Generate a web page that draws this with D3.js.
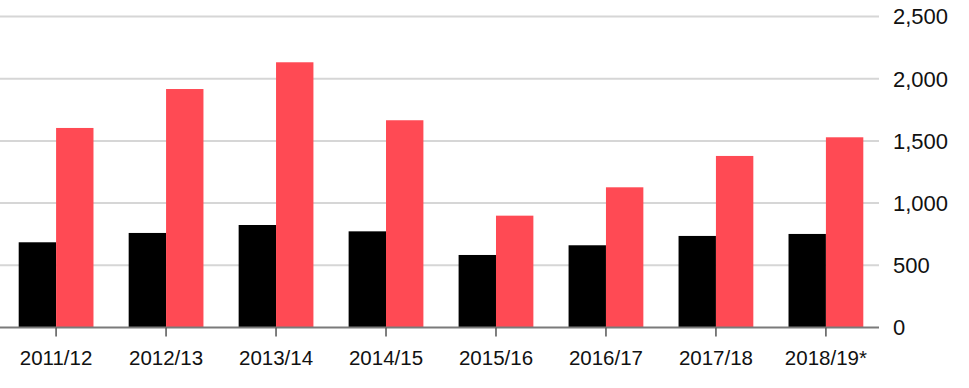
<!DOCTYPE html>
<html>
<head>
<meta charset="utf-8">
<script src="https://cdn.jsdelivr.net/npm/d3@7"></script>
<style>
	body { margin: 0; background: #fff; }
	svg { display: block; font-family: "Liberation Sans", Arial, sans-serif; }
</style>
</head>
<body>
<script>
const years = ["2011/12", "2012/13", "2013/14", "2014/15", "2015/16", "2016/17", "2017/18", "2018/19*"];
const seriesA = [685, 760, 824, 773, 583, 661, 736, 752];
const seriesB = [1604, 1917, 2132, 1666, 899, 1127, 1379, 1529];
const yTicks = [0, 500, 1000, 1500, 2000, 2500];

const svgWidth = 969;
const svgHeight = 388;
const plotRight = 879;

const svg = d3.select("body")
	.append("svg")
	.attr("width", svgWidth)
	.attr("height", svgHeight);

const xScale = d3.scaleBand()
	.domain(years)
	.range([0, 882])
	.paddingInner(0.32)
	.paddingOuter(0.17);

const xSub = d3.scaleBand()
	.domain(["a", "b"])
	.range([0, xScale.bandwidth()]);

const yScale = d3.scaleLinear()
	.domain([0, 2500])
	.range([327.5, 16.5]);

// gridlines
svg.append("g")
	.selectAll("line")
	.data(yTicks.filter((d) => d > 0))
	.join("line")
	.attr("x1", 0)
	.attr("x2", plotRight)
	.attr("y1", (d) => yScale(d))
	.attr("y2", (d) => yScale(d))
	.attr("stroke", "#d6d6d6")
	.attr("stroke-width", 2);

// y labels on the right
svg.append("g")
	.selectAll("text")
	.data(yTicks)
	.join("text")
	.attr("x", 893)
	.attr("y", (d) => yScale(d))
	.attr("dy", "0.36em")
	.attr("font-size", 22)
	.attr("fill", "#111")
	.text((d) => d3.format(",")(d));

// bars
const rows = years.map((y, i) => ({ year: y, a: seriesA[i], b: seriesB[i] }));
const groups = svg.append("g")
	.selectAll("g")
	.data(rows)
	.join("g")
	.attr("transform", (d) => `translate(${xScale(d.year)} 0)`);

groups.append("rect")
	.attr("x", xSub("a"))
	.attr("width", xSub.bandwidth())
	.attr("y", (d) => yScale(d.a))
	.attr("height", (d) => yScale(0) - yScale(d.a))
	.attr("fill", "#000");

groups.append("rect")
	.attr("x", xSub("b"))
	.attr("width", xSub.bandwidth())
	.attr("y", (d) => yScale(d.b))
	.attr("height", (d) => yScale(0) - yScale(d.b))
	.attr("fill", "#ff4a54");

// x axis
const xAxis = svg.append("g")
	.attr("transform", `translate(0 ${yScale(0)})`)
	.call(d3.axisBottom(xScale).tickSize(9).tickPadding(14).tickSizeOuter(0));
xAxis.select(".domain")
	.attr("d", `M0,0H${plotRight}`)
	.attr("stroke", "#7a7a7a")
	.attr("stroke-width", 2);
xAxis.selectAll(".tick line").attr("stroke", "#555").attr("stroke-width", 1.5);
xAxis.selectAll(".tick text")
	.attr("font-size", 20.5)
	.attr("font-family", "Liberation Sans, Arial, sans-serif")
	.attr("fill", "#111");
</script>
</body>
</html>
